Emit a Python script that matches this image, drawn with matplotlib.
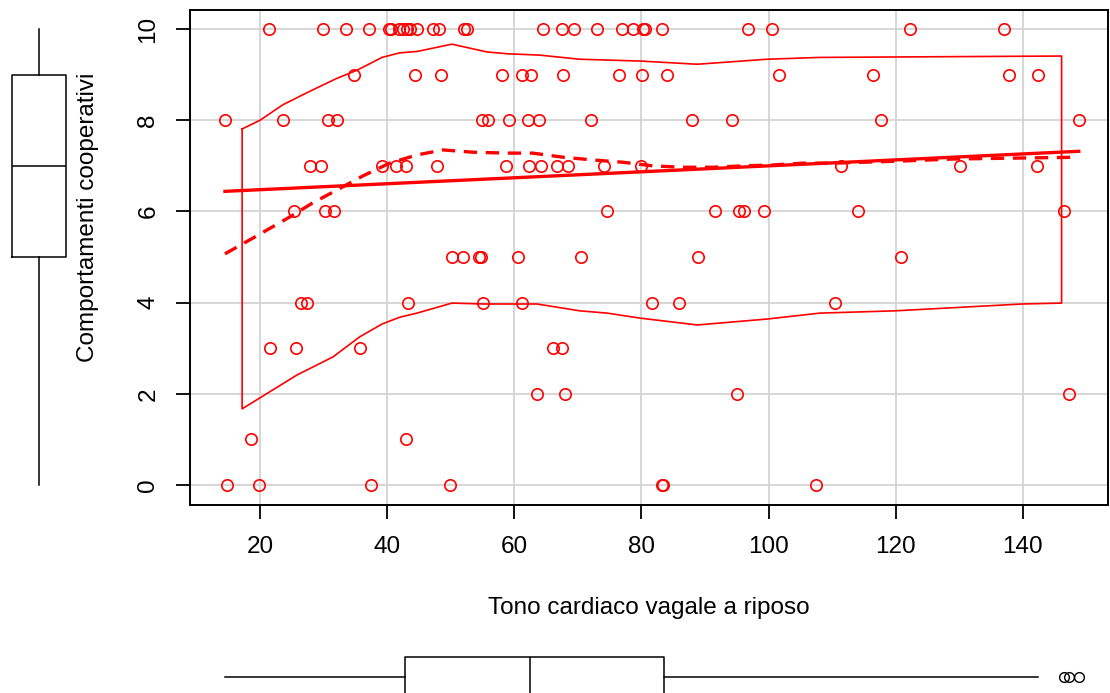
import numpy as np
import matplotlib
matplotlib.use("Agg")
import matplotlib.pyplot as plt

plt.rcParams['font.family'] = ['Liberation Sans', 'DejaVu Sans']

# ---- data ----
x_y10 = [21.4, 29.9, 33.5, 37.2, 40.3, 40.6, 41.9, 42.5, 43.1, 43.6, 44.7, 47.2, 48.2, 52.1, 52.6,
         64.5, 67.5, 69.4, 73.0, 76.9, 78.7, 80.2, 80.6, 83.2, 96.8, 100.5, 122.2, 137.0]
x_y9 = [34.8, 44.4, 48.5, 58.1, 61.2, 62.6, 67.7, 76.5, 80.1, 84.0, 101.6, 116.4, 137.8, 142.4]
x_y8 = [14.5, 23.6, 30.7, 32.1, 54.9, 55.9, 59.2, 62.2, 63.9, 72.1, 87.9, 94.2, 117.7, 148.8]
x_y7 = [27.9, 29.6, 39.2, 41.4, 43.0, 47.8, 58.7, 62.3, 64.2, 66.7, 68.4, 74.1, 79.9, 111.4, 130.1, 142.2]
x_y6 = [25.4, 30.2, 31.6, 74.6, 91.6, 95.4, 96.1, 99.3, 114.0, 146.5]
x_y5 = [50.2, 51.9, 54.4, 54.8, 60.6, 70.5, 88.9, 120.8]
x_y4 = [26.5, 27.4, 43.3, 55.1, 61.2, 81.7, 85.9, 110.4]
x_y3 = [21.6, 25.7, 35.7, 66.1, 67.5]
x_y2 = [63.6, 68.0, 95.0, 147.2]
x_y1 = [18.6, 43.0]
x_y0 = [14.8, 19.8, 37.5, 49.9, 83.2, 83.4, 107.5]

groups = {10: x_y10, 9: x_y9, 8: x_y8, 7: x_y7, 6: x_y6, 5: x_y5,
          4: x_y4, 3: x_y3, 2: x_y2, 1: x_y1, 0: x_y0}

# smoother (dashed)
smooth_x = [14.5, 19.2, 24.7, 28.2, 32.1, 36.2, 40.4, 44.7, 48.8, 53.5, 58.9, 62.9, 67.7, 72.4,
            77.1, 81.8, 86.5, 91.2, 95.9, 100.7, 105.4, 110.1, 119.6, 129.0, 138.4, 148.8]
smooth_y = [5.07, 5.44, 5.88, 6.18, 6.47, 6.78, 7.06, 7.24, 7.35, 7.30, 7.28, 7.28, 7.19, 7.13,
            7.08, 7.00, 6.97, 6.97, 7.00, 7.02, 7.06, 7.06, 7.10, 7.15, 7.17, 7.19]

# spread lines
upper_x = [17.2, 20.0, 23.6, 27.9, 32.1, 35.3, 39.2, 42.0, 44.7, 50.2, 55.7, 58.9, 64.0, 70.3,
           79.8, 88.8, 99.8, 108.1, 120.7, 146.1]
upper_y = [7.81, 8.00, 8.34, 8.64, 8.92, 9.10, 9.38, 9.48, 9.51, 9.67, 9.50, 9.46, 9.43, 9.34,
           9.30, 9.23, 9.34, 9.38, 9.39, 9.41]
lower_x = [17.2, 20.0, 25.8, 31.5, 35.7, 39.2, 42.0, 44.7, 50.2, 55.1, 59.3, 63.6, 70.3, 74.6,
           79.8, 88.8, 99.8, 108.1, 119.9, 139.9, 146.1]
lower_y = [1.67, 1.91, 2.41, 2.81, 3.25, 3.53, 3.68, 3.77, 3.99, 3.97, 3.97, 3.97, 3.82, 3.77,
           3.66, 3.51, 3.64, 3.77, 3.82, 3.97, 3.99]

x_ticks = [20, 40, 60, 80, 100, 120, 140]
y_ticks = [0, 2, 4, 6, 8, 10]
x_label = "Tono cardiaco vagale a riposo"
y_label = "Comportamenti cooperativi"

xs = np.concatenate([np.array(v, float) for v in groups.values()])
ys = np.concatenate([np.full(len(v), k, float) for k, v in groups.items()])

W, H = 1110, 693
fig = plt.figure(figsize=(W / 100, H / 100), dpi=100)

def fr(l, t, r, b):
    return [l / W, 1 - b / H, (r - l) / W, (b - t) / H]

XLIM = (9.0, 153.4)
YLIM = (-0.44, 10.42)
RED = '#FF0000'
FS = 17.5

ax = fig.add_axes(fr(190, 10, 1108, 505))
ax.set_xlim(*XLIM)
ax.set_ylim(*YLIM)
ax.set_xticks(x_ticks)
ax.set_yticks(y_ticks)
ax.grid(True, color='#D3D3D3', lw=1.3)
ax.set_axisbelow(True)
for s in ax.spines.values():
    s.set_linewidth(1.4)
ax.tick_params(direction='out', length=10, width=1.3, labelsize=FS, pad=12)
for lab in ax.get_yticklabels():
    lab.set_rotation(90)
    lab.set_va('center')

ax.plot(xs, ys, 'o', mfc='none', mec=RED, ms=8.2, mew=1.2, zorder=3)

# linear fit
coef = np.polyfit(xs, ys, 1)
lx = np.array([xs.min(), xs.max()])
ax.plot(lx, np.polyval(coef, lx), color=RED, lw=2.4, zorder=4)

ax.plot(smooth_x, smooth_y, color=RED, lw=2.4, dashes=(4, 2.6), zorder=4)

# spread envelope (closed at both ends)
env_x = list(upper_x) + list(lower_x[::-1]) + [upper_x[0]]
env_y = list(upper_y) + list(lower_y[::-1]) + [upper_y[0]]
ax.plot(env_x, env_y, color=RED, lw=1.2, zorder=4)

fig.text(649 / W, 1 - 608 / H, x_label, fontsize=FS, ha='center', va='center')
fig.text(88 / W, 1 - 217 / H, y_label, fontsize=FS, ha='center', va='center', rotation=90)

# marginal boxplot (y) on the left
axl = fig.add_axes(fr(0, 10, 80, 505))
axl.boxplot(ys, positions=[0], widths=1.0, whis=1.5, showcaps=False,
            boxprops=dict(color='black', lw=1.1), whiskerprops=dict(color='black', lw=1.1),
            medianprops=dict(color='black', lw=1.1),
            flierprops=dict(marker='o', mfc='none', mec='black', ms=7))
axl.set_ylim(*YLIM)
axl.set_xlim(-39 / 54, 41 / 54)
axl.axis('off')

# marginal boxplot (x) at bottom
axb = fig.add_axes(fr(190, 640, 1108, 693))
axb.boxplot(xs, positions=[0], widths=1.0, whis=1.5, showcaps=False, orientation='horizontal',
            boxprops=dict(color='black', lw=1.1), whiskerprops=dict(color='black', lw=1.1),
            medianprops=dict(color='black', lw=1.1),
            flierprops=dict(marker='o', mfc='none', mec='black', ms=7, mew=1))
axb.set_xlim(*XLIM)
axb.set_ylim(-0.4, 0.925)
axb.axis('off')

fig.savefig('out.png', dpi=100)
